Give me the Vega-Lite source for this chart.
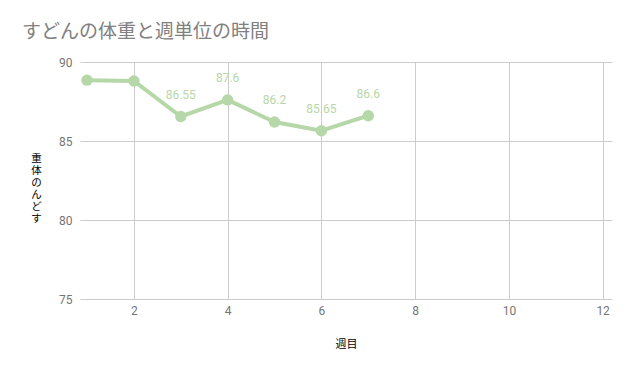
{
  "$schema": "https://vega.github.io/schema/vega-lite/v6.json",
  "width": 532,
  "height": 237,
  "autosize": {"type": "none"},
  "padding": {"left": 80, "top": 62, "right": 19, "bottom": 72},
  "background": "white",
  "title": {
    "text": "すどんの体重と週単位の時間",
    "anchor": "start",
    "frame": "group",
    "dx": -58,
    "offset": 10,
    "fontSize": 19,
    "fontWeight": "normal",
    "font": "Noto Sans CJK JP",
    "color": "#808080"
  },
  "data": {
    "values": [
      {"week": 1, "weight": 88.85, "label": ""},
      {"week": 2, "weight": 88.8, "label": ""},
      {"week": 3, "weight": 86.55, "label": "86.55"},
      {"week": 4, "weight": 87.6, "label": "87.6"},
      {"week": 5, "weight": 86.2, "label": "86.2"},
      {"week": 6, "weight": 85.65, "label": "85.65"},
      {"week": 7, "weight": 86.6, "label": "86.6"}
    ]
  },
  "encoding": {
    "x": {
      "field": "week",
      "type": "quantitative",
      "scale": {"domain": [0.85, 12.2], "nice": false, "zero": false},
      "axis": {
        "values": [2, 4, 6, 8, 10, 12],
        "title": "週目",
        "titleFont": "Noto Sans CJK JP",
        "titleFontWeight": "normal",
        "titleFontSize": 11,
        "titleColor": "#000000",
        "titlePadding": 22,
        "labelFont": "Roboto",
        "labelFontSize": 12,
        "labelColor": "#757575",
        "labelPadding": 6,
        "domain": false,
        "ticks": false,
        "grid": true,
        "gridColor": "#cccccc"
      }
    },
    "y": {
      "field": "weight",
      "type": "quantitative",
      "scale": {"domain": [75, 90], "nice": false, "zero": false},
      "axis": {
        "values": [75, 80, 85, 90],
        "title": ["重", "体", "の", "ん", "ど", "す"],
        "titleAngle": 0,
        "titleFont": "Noto Sans CJK JP",
        "titleFontWeight": "normal",
        "titleFontSize": 10.5,
        "titleLineHeight": 12,
        "titleColor": "#000000",
        "titleX": -44,
        "titleY": 91,
        "titleAlign": "center",
        "titleBaseline": "top",
        "labelFont": "Roboto",
        "labelFontSize": 12,
        "labelColor": "#757575",
        "labelPadding": 8,
        "domain": false,
        "ticks": false,
        "grid": true,
        "gridColor": "#cccccc"
      }
    }
  },
  "layer": [
    {
      "mark": {"type": "line", "color": "#b6d7a8", "strokeWidth": 4}
    },
    {
      "mark": {"type": "circle", "color": "#b6d7a8", "opacity": 1, "size": 130}
    },
    {
      "mark": {"type": "text", "color": "#b6d7a8", "dy": -15, "font": "Roboto", "fontSize": 12, "baseline": "bottom"},
      "encoding": {"text": {"field": "label"}}
    }
  ],
  "config": {
    "view": {"stroke": null}
  }
}
